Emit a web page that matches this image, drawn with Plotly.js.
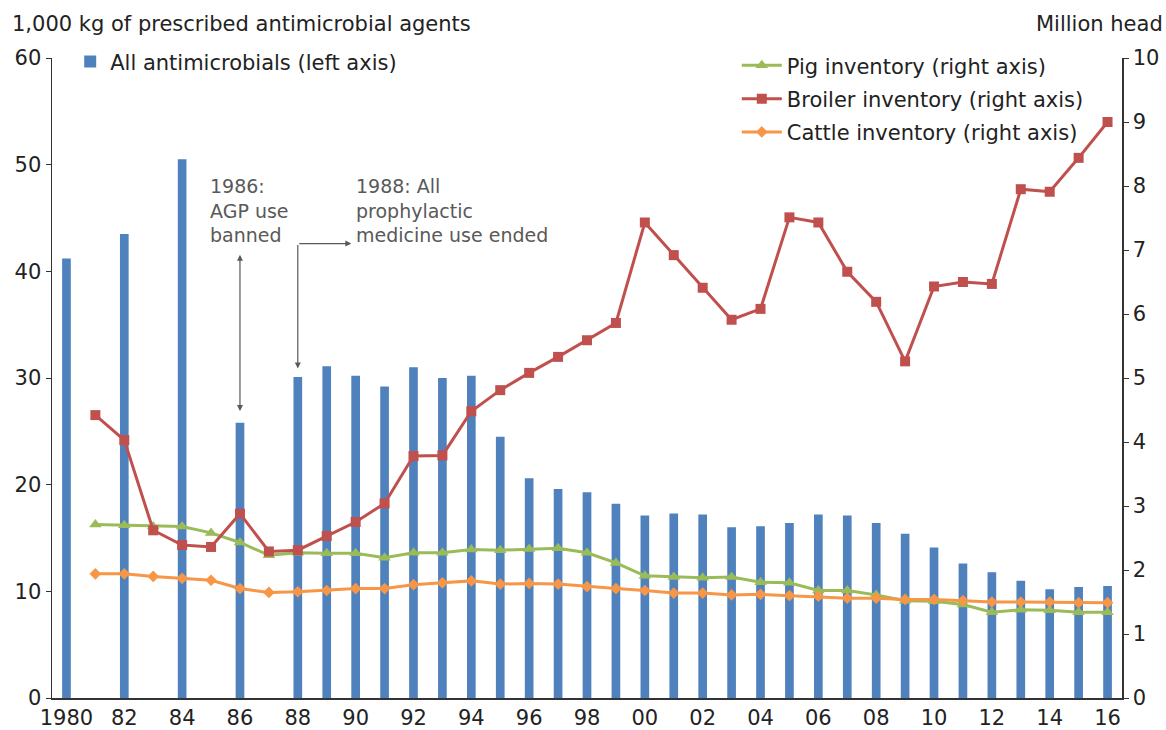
<!DOCTYPE html>
<html>
<head>
<meta charset="utf-8">
<script src="https://cdn.plot.ly/plotly-3.0.1.min.js"></script>
<style>html,body{margin:0;padding:0;background:#fff;}#chart{width:1166px;height:730px;}</style>
</head>
<body>
<div id="chart"></div>
<script>
// ---- Data ----
const barYears = [1980,1982,1984,1986,1988,1989,1990,1991,1992,1993,1994,1995,1996,1997,1998,1999,2000,2001,2002,2003,2004,2005,2006,2007,2008,2009,2010,2011,2012,2013,2014,2015,2016];
const antimicrobials = [41.2,43.5,50.5,25.8,30.1,31.1,30.2,29.2,31.0,30.0,30.2,24.5,20.6,19.6,19.3,18.2,17.1,17.3,17.2,16.0,16.1,16.4,17.2,17.1,16.4,15.4,14.1,12.6,11.8,11.0,10.2,10.4,10.5];

const lineYears = [1981,1982,1983,1984,1985,1986,1987,1988,1989,1990,1991,1992,1993,1994,1995,1996,1997,1998,1999,2000,2001,2002,2003,2004,2005,2006,2007,2008,2009,2010,2011,2012,2013,2014,2015,2016];
const pig = [2.71,2.70,2.68,2.68,2.58,2.43,2.23,2.27,2.26,2.26,2.19,2.27,2.27,2.32,2.31,2.33,2.34,2.27,2.11,1.91,1.89,1.88,1.89,1.81,1.80,1.68,1.68,1.61,1.52,1.51,1.46,1.34,1.38,1.37,1.34,1.34];
const broiler = [4.42,4.03,2.62,2.39,2.36,2.88,2.29,2.31,2.53,2.75,3.04,3.78,3.79,4.48,4.81,5.08,5.33,5.59,5.86,7.43,6.92,6.41,5.91,6.08,7.51,7.43,6.66,6.19,5.26,6.43,6.50,6.47,7.95,7.91,8.44,9.00];
const cattle = [1.94,1.94,1.90,1.87,1.84,1.71,1.65,1.66,1.68,1.71,1.71,1.77,1.80,1.83,1.78,1.79,1.78,1.74,1.71,1.68,1.64,1.64,1.61,1.62,1.60,1.59,1.56,1.56,1.54,1.54,1.52,1.50,1.50,1.50,1.49,1.49];

const xTickVals = [1980,1982,1984,1986,1988,1990,1992,1994,1996,1998,2000,2002,2004,2006,2008,2010,2012,2014,2016];
const xTickText = ["1980","82","84","86","88","90","92","94","96","98","00","02","04","06","08","10","12","14","16"];
const leftTicks = [0,10,20,30,40,50,60];
const rightTicks = [0,1,2,3,4,5,6,7,8,9,10];

const FONT = 'DejaVu Sans, Liberation Sans, Arial, sans-serif';
const GREY = '#595959';
const INK = '#222';
const FS = 21;

const traces = [
  {type:'bar', name:'All antimicrobials (left axis)', x:barYears, y:antimicrobials, width:0.3,
   marker:{color:'#4F81BD'}, yaxis:'y', legend:'legend'},
  {type:'scatter', mode:'lines+markers', name:'Pig inventory (right axis)', x:lineYears, y:pig, yaxis:'y2',
   line:{color:'#9BBB59', width:3}, marker:{symbol:'triangle-up', size:11, color:'#9BBB59'}, legend:'legend2', legendgroup:'a'},
  {type:'scatter', mode:'lines+markers', name:'Broiler inventory (right axis)', x:lineYears, y:broiler, yaxis:'y2',
   line:{color:'#C0504D', width:3}, marker:{symbol:'square', size:10, color:'#C0504D'}, legend:'legend2', legendgroup:'b'},
  {type:'scatter', mode:'lines+markers', name:'Cattle inventory (right axis)', x:lineYears, y:cattle, yaxis:'y2',
   line:{color:'#F79646', width:3}, marker:{symbol:'diamond', size:9, color:'#F79646'}, legend:'legend2', legendgroup:'c'}
];

const layout = {
  width:1166, height:730,
  margin:{l:52, r:44, t:58, b:32},
  paper_bgcolor:'#fff', plot_bgcolor:'#fff',
  font:{family:FONT, size:FS, color:INK},
  showlegend:true,
  xaxis:{range:[1979.5,2016.5], tickvals:xTickVals, ticktext:xTickText, showgrid:false, zeroline:false,
         showline:true, linecolor:'#333', linewidth:1.5, ticks:'', tickfont:{size:FS, color:INK}},
  yaxis:{range:[0,60], tickvals:leftTicks, showgrid:false, zeroline:false, showline:true, linecolor:'#333', linewidth:1.5,
         ticks:'outside', ticklen:5, tickcolor:'#333', tickfont:{size:FS, color:INK}},
  yaxis2:{range:[0,10], tickvals:rightTicks, overlaying:'y', side:'right', showgrid:false, zeroline:false, showline:true,
          linecolor:'#333', linewidth:1.5, ticks:'outside', ticklen:5, tickcolor:'#333', tickfont:{size:FS, color:INK}},
  legend:{x:0.017, y:1.026, xanchor:'left', yanchor:'top', bgcolor:'rgba(0,0,0,0)', font:{size:FS, color:INK}},
  legend2:{x:0.64, y:1.02, xanchor:'left', yanchor:'top', bgcolor:'rgba(0,0,0,0)', font:{size:FS, color:INK},
           itemwidth:40, traceorder:'grouped', tracegroupgap:3},
  annotations:[
    {xref:'paper', yref:'paper', x:-0.039, y:1.053, xanchor:'left', yanchor:'middle', showarrow:false,
     text:'1,000 kg of prescribed antimicrobial agents', font:{size:FS, color:INK}},
    {xref:'paper', yref:'paper', x:1.04, y:1.053, xanchor:'right', yanchor:'middle', showarrow:false,
     text:'Million head', font:{size:FS, color:INK}},
    {xref:'x', yref:'y', x:1984.9, y:49.2, xanchor:'left', yanchor:'top', align:'left', showarrow:false,
     text:'1986:<br>AGP use<br>banned', font:{size:19, color:GREY}},
    {xref:'x', yref:'y', x:1989.95, y:49.2, xanchor:'left', yanchor:'top', align:'left', showarrow:false,
     text:'1988: All<br>prophylactic<br>medicine use ended', font:{size:19, color:GREY}},
    // 1986 double-headed arrow
    {xref:'x', yref:'y', axref:'x', ayref:'y', x:1986, y:26.9, ax:1986, ay:41.7, text:'', showarrow:true,
     arrowhead:2, startarrowhead:2, arrowside:'end+start', arrowsize:1, startarrowsize:1, arrowwidth:1.2, arrowcolor:GREY},
    // 1988 elbow arrow: vertical down
    {xref:'x', yref:'y', axref:'x', ayref:'y', x:1988, y:30.9, ax:1988, ay:42.6, text:'', showarrow:true,
     arrowhead:2, arrowsize:1, arrowwidth:1.2, arrowcolor:GREY},
    // horizontal right
    {xref:'x', yref:'y', axref:'x', ayref:'y', x:1989.85, y:42.6, ax:1988, ay:42.6, text:'', showarrow:true,
     arrowhead:2, arrowsize:1, arrowwidth:1.2, arrowcolor:GREY}
  ]
};

Plotly.newPlot('chart', traces, layout, {displayModeBar:false, staticPlot:true});
</script>
</body>
</html>
